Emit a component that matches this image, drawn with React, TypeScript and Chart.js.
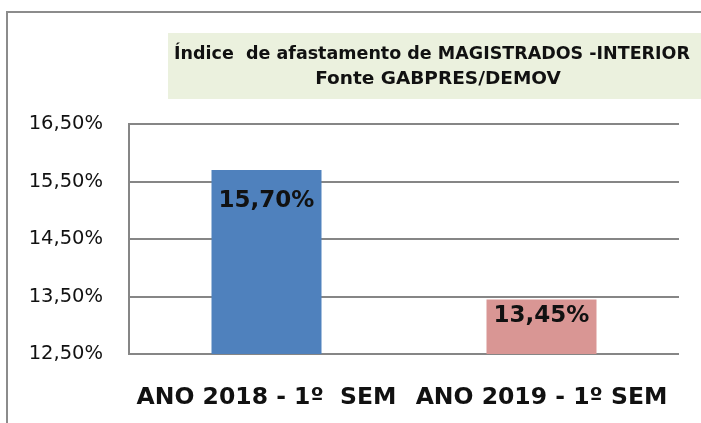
import React, { useEffect, useRef } from "react";
import { Chart, registerables } from "chart.js";

Chart.register(...registerables);

const categories: string[] = ["ANO 2018 - 1º  SEM", "ANO 2019 - 1º SEM"];
const values: number[] = [15.7, 13.45];
const valueLabels: string[] = ["15,70%", "13,45%"];
const barColors: string[] = ["#4f81bd", "#d99694"];
const titleLines: string[] = [
  "Índice  de afastamento de MAGISTRADOS -INTERIOR",
  "Fonte GABPRES/DEMOV",
];
const yMin = 12.5;
const yMax = 16.5;
const yStep = 1;

const FONT = "'DejaVu Sans', 'Liberation Sans', sans-serif";
const labelBaselineOffsets = [37, 23];

const framePlugin = {
  id: "frameAndTitle",
  beforeDraw(chart: any) {
    const ctx = chart.ctx;
    ctx.save();
    ctx.fillStyle = "#ffffff";
    ctx.fillRect(0, 0, chart.width, chart.height);
    // outer frame (left + top)
    ctx.strokeStyle = "#8c8c8c";
    ctx.lineWidth = 2;
    ctx.beginPath();
    ctx.moveTo(7, chart.height);
    ctx.lineTo(7, 12);
    ctx.lineTo(chart.width, 12);
    ctx.stroke();
    // title box
    ctx.fillStyle = "#ebf1de";
    ctx.fillRect(168, 33, chart.width - 168, 66);
    ctx.fillStyle = "#111111";
    ctx.textAlign = "center";
    ctx.textBaseline = "alphabetic";
    ctx.font = `bold 17.5px ${FONT}`;
    ctx.fillText(titleLines[0], 432, 59);
    ctx.font = `bold 18.5px ${FONT}`;
    ctx.fillText(titleLines[1], 438, 84);
    ctx.restore();
  },
};

const valueLabelPlugin = {
  id: "valueLabels",
  afterDatasetsDraw(chart: any) {
    const ctx = chart.ctx;
    const meta = chart.getDatasetMeta(0);
    ctx.save();
    ctx.fillStyle = "#111111";
    ctx.font = `bold 23px ${FONT}`;
    ctx.textAlign = "center";
    ctx.textBaseline = "alphabetic";
    meta.data.forEach((bar: any, i: number) => {
      ctx.fillText(valueLabels[i], bar.x, bar.y + labelBaselineOffsets[i]);
    });
    ctx.restore();
  },
};

export default function App() {
  const canvasRef = useRef<HTMLCanvasElement | null>(null);

  useEffect(() => {
    if (!canvasRef.current) return;
    const chart = new Chart(canvasRef.current, {
      type: "bar",
      data: {
        labels: categories,
        datasets: [
          {
            data: values,
            backgroundColor: barColors,
            borderWidth: 0,
            categoryPercentage: 1,
            barPercentage: 0.4,
          },
        ],
      },
      options: {
        responsive: false,
        animation: false,
        layout: { padding: { top: 124, right: 22, left: 0, bottom: 0 } },
        plugins: {
          legend: { display: false },
          title: { display: false },
          tooltip: { enabled: false },
        },
        scales: {
          x: {
            grid: { display: false },
            border: { display: false },
            ticks: {
              color: "#111111",
              font: { family: FONT, size: 23.5, weight: "bold" },
              padding: 22,
              maxRotation: 0,
              autoSkip: false,
            },
            afterFit(scale: any) {
              scale.height = 69;
            },
          },
          y: {
            min: yMin,
            max: yMax,
            grid: { color: "#868686", lineWidth: 2, drawTicks: false },
            border: { display: true, color: "#868686", width: 2 },
            ticks: {
              stepSize: yStep,
              color: "#111111",
              font: { family: FONT, size: 19.5 },
              padding: 26,
              callback: (v: any) => Number(v).toFixed(2).replace(".", ",") + "%",
            },
            afterFit(scale: any) {
              scale.width = 129;
            },
          },
        },
      },
      plugins: [framePlugin, valueLabelPlugin],
    });
    return () => chart.destroy();
  }, []);

  return (
    <div style={{ position: "fixed", left: 0, top: 0, width: 701, height: 423 }}>
      <canvas ref={canvasRef} width={701} height={423} />
    </div>
  );
}
